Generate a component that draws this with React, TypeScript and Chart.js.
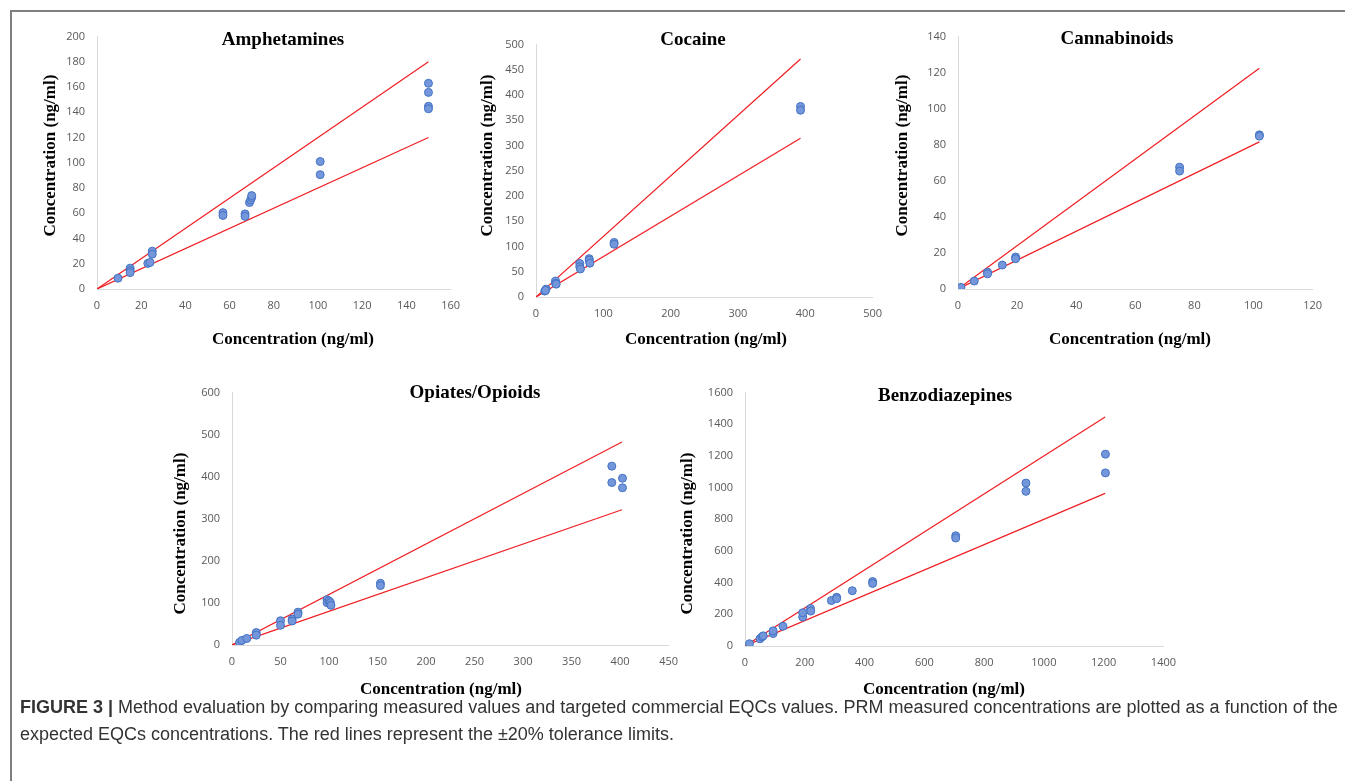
import React, { useEffect, useRef } from "react";
import { Chart, registerables } from "chart.js";

Chart.register(...registerables);

// ---------- Amphetamines ----------
const amphX = [9.5, 15, 15, 15, 23, 24, 25, 25, 57, 57, 67, 67, 69, 69.5, 70, 70, 101, 101, 150, 150, 150, 150];
const amphY = [8.6, 16.5, 14.6, 13, 20.3, 21, 30, 27.6, 60.5, 58.3, 59.5, 57.6, 68.5, 70.5, 72.5, 74, 101, 90.6, 163, 155.8, 144.8, 142.8];
const amphLineX = [0, 150];
const amphUpper = [0, 180];
const amphLower = [0, 120];

// ---------- Cocaine ----------
const cocX = [13, 15, 14, 29, 29, 30, 65, 65, 66, 79, 79, 80, 116, 116, 393, 393];
const cocY = [11.7, 15.5, 13, 31.5, 27, 25.5, 66.5, 60, 55.5, 76, 73, 67, 108, 104.5, 377.5, 370];
const cocLineX = [0, 393];
const cocUpper = [0, 471.6];
const cocLower = [0, 314.4];

// ---------- Cannabinoids ----------
const canX = [1, 5.5, 10, 10, 15, 19.5, 19.5, 75, 75, 102, 102];
const canY = [0.9, 4.4, 9.3, 8.4, 13.3, 17.7, 16.8, 67.6, 65.4, 85.5, 84.8];
const canLineX = [0, 102];
const canUpper = [0, 122.4];
const canLower = [0, 81.6];

// ---------- Opiates/Opioids ----------
const opiX = [7.8, 10.2, 15.3, 25, 25, 50, 50, 62, 62, 68, 68, 98, 98, 100, 101.5, 102, 153, 153, 391.5, 391.5, 402.5, 402.5];
const opiY = [6.2, 10.9, 15.6, 29.6, 23.4, 57.7, 46.8, 61.6, 57, 78, 73.3, 107.7, 100.6, 104.5, 100.6, 94.4, 146.7, 141.2, 425.2, 386.2, 396.4, 373.7];
const opiLineX = [0, 402];
const opiUpper = [0, 482.4];
const opiLower = [0, 321.6];

// ---------- Benzodiazepines ----------
const benX = [15, 50, 57, 61, 94, 94, 127, 193, 193, 219, 220, 289, 306.7, 306.7, 359, 427, 427, 705, 705, 940, 940, 1206, 1206];
const benY = [14.5, 45.7, 58, 64, 79, 95.6, 124.7, 182.9, 209.9, 236.9, 220.3, 286.8, 307.5, 299, 349, 407, 395, 696, 681.6, 1028.6, 976.6, 1211.4, 1093];
const benLineX = [0, 1205];
const benUpper = [0, 1446];
const benLower = [0, 964];

// axis ranges [max, step]
const amphXAxis = [160, 20];
const amphYAxis = [200, 20];
const cocXAxis = [500, 100];
const cocYAxis = [500, 50];
const canXAxis = [120, 20];
const canYAxis = [140, 20];
const opiXAxis = [450, 50];
const opiYAxis = [600, 100];
const benXAxis = [1400, 200];
const benYAxis = [1600, 200];

const titles = ["Amphetamines", "Cocaine", "Cannabinoids", "Opiates/Opioids", "Benzodiazepines"];
const axisTitle = "Concentration (ng/ml)";

const MARGIN_L = 70;
const MARGIN_T = 15;
const MARGIN_R = 15;
const MARGIN_B = 60;

type Panel = {
  title: string;
  xs: number[];
  ys: number[];
  lineX: number[];
  upper: number[];
  lower: number[];
  xAxis: number[];
  yAxis: number[];
  area: { left: number; top: number; right: number; bottom: number };
  titlePos: [number, number];
  xTitlePos: [number, number];
  yTitlePos: [number, number];
};

const panels: Panel[] = [
  {
    title: titles[0], xs: amphX, ys: amphY, lineX: amphLineX, upper: amphUpper, lower: amphLower,
    xAxis: amphXAxis, yAxis: amphYAxis,
    area: { left: 97, top: 33, right: 455, bottom: 289 },
    titlePos: [283, 36], xTitlePos: [293, 336], yTitlePos: [51, 152],
  },
  {
    title: titles[1], xs: cocX, ys: cocY, lineX: cocLineX, upper: cocUpper, lower: cocLower,
    xAxis: cocXAxis, yAxis: cocYAxis,
    area: { left: 536, top: 41, right: 877, bottom: 297 },
    titlePos: [693, 36], xTitlePos: [706, 336], yTitlePos: [488, 152],
  },
  {
    title: titles[2], xs: canX, ys: canY, lineX: canLineX, upper: canUpper, lower: canLower,
    xAxis: canXAxis, yAxis: canYAxis,
    area: { left: 958, top: 33, right: 1317, bottom: 289 },
    titlePos: [1117, 35], xTitlePos: [1130, 336], yTitlePos: [903, 152],
  },
  {
    title: titles[3], xs: opiX, ys: opiY, lineX: opiLineX, upper: opiUpper, lower: opiLower,
    xAxis: opiXAxis, yAxis: opiYAxis,
    area: { left: 232, top: 389, right: 673, bottom: 645 },
    titlePos: [475, 389], xTitlePos: [441, 686], yTitlePos: [181, 530],
  },
  {
    title: titles[4], xs: benX, ys: benY, lineX: benLineX, upper: benUpper, lower: benLower,
    xAxis: benXAxis, yAxis: benYAxis,
    area: { left: 745, top: 389, right: 1171, bottom: 646 },
    titlePos: [945, 392], xTitlePos: [944, 686], yTitlePos: [688, 530],
  },
];

const textPlugin = {
  id: "panelText",
  afterDraw(chart: any, _args: any, opts: any) {
    const { ctx, chartArea } = chart;
    const a = opts.area;
    const px = (x: number) => chartArea.left + (x - a.left);
    const py = (y: number) => chartArea.top + (y - a.top);
    ctx.save();
    ctx.fillStyle = "#000000";
    ctx.textAlign = "center";
    ctx.textBaseline = "middle";
    ctx.font = "bold 19px 'Liberation Serif', 'Times New Roman', serif";
    ctx.fillText(opts.title, px(opts.titlePos[0]), py(opts.titlePos[1]));
    ctx.font = "bold 17px 'Liberation Serif', 'Times New Roman', serif";
    ctx.fillText(opts.xTitle, px(opts.xTitlePos[0]), py(opts.xTitlePos[1]));
    ctx.translate(px(opts.yTitlePos[0]), py(opts.yTitlePos[1]));
    ctx.rotate(-Math.PI / 2);
    ctx.fillText(opts.yTitle, 0, 0);
    ctx.restore();
  },
};

const plainTick = (v: any) => String(v);

function ScatterPanel({ p }: { p: Panel }) {
  const ref = useRef<HTMLCanvasElement | null>(null);
  const w = p.area.right - p.area.left + MARGIN_L + MARGIN_R;
  const h = p.area.bottom - p.area.top + MARGIN_T + MARGIN_B;

  useEffect(() => {
    if (!ref.current) return;
    const tickFont = { family: "'Open Sans', 'Liberation Sans', sans-serif", size: 11 };
    const chart = new Chart(ref.current, {
      type: "scatter",
      data: {
        datasets: [
          {
            label: "measured",
            data: p.xs.map((x, i) => ({ x, y: p.ys[i] })),
            backgroundColor: "#7397da",
            borderColor: "#4472c4",
            borderWidth: 1,
            pointRadius: 4,
            showLine: false,
          },
          {
            label: "+20%",
            data: p.lineX.map((x, i) => ({ x, y: p.upper[i] })),
            showLine: true,
            borderColor: "#f01e23",
            borderWidth: 1.2,
            pointRadius: 0,
            fill: false,
          },
          {
            label: "-20%",
            data: p.lineX.map((x, i) => ({ x, y: p.lower[i] })),
            showLine: true,
            borderColor: "#f01e23",
            borderWidth: 1.2,
            pointRadius: 0,
            fill: false,
          },
        ],
      },
      options: {
        animation: false,
        responsive: false,
        events: [],
        layout: { padding: { left: 0, top: MARGIN_T, right: MARGIN_R, bottom: 0 } },
        plugins: {
          legend: { display: false },
          tooltip: { enabled: false },
          title: { display: false },
          panelText: {
            area: p.area,
            title: p.title,
            titlePos: p.titlePos,
            xTitle: axisTitle,
            xTitlePos: p.xTitlePos,
            yTitle: axisTitle,
            yTitlePos: p.yTitlePos,
          },
        } as any,
        scales: {
          x: {
            type: "linear",
            min: 0,
            max: p.xAxis[0],
            grid: { display: false, drawTicks: false },
            border: { display: true, color: "#d9d9d9", width: 1 },
            ticks: { stepSize: p.xAxis[1], color: "#595959", font: tickFont, padding: 10, maxRotation: 0, autoSkip: false, callback: plainTick },
            afterFit: (s: any) => { s.height = MARGIN_B; },
          },
          y: {
            type: "linear",
            min: 0,
            max: p.yAxis[0],
            grid: { display: false, drawTicks: false },
            border: { display: true, color: "#d9d9d9", width: 1 },
            ticks: { stepSize: p.yAxis[1], color: "#595959", font: tickFont, padding: 12, autoSkip: false, callback: plainTick },
            afterFit: (s: any) => { s.width = MARGIN_L; },
          },
        },
      },
      plugins: [textPlugin as any],
    });
    return () => chart.destroy();
  }, [p]);

  return (
    <canvas
      ref={ref}
      width={w}
      height={h}
      style={{
        position: "absolute",
        left: p.area.left - MARGIN_L,
        top: p.area.top - MARGIN_T,
        width: w,
        height: h,
      }}
    />
  );
}

export default function App() {
  return (
    <div
      style={{
        position: "absolute",
        left: 0,
        top: 0,
        width: 1345,
        height: 781,
        background: "#ffffff",
        overflow: "hidden",
      }}
    >
      <div
        style={{
          position: "absolute",
          left: 10,
          top: 10,
          right: 0,
          bottom: 0,
          borderTop: "2px solid #7f7f7f",
          borderLeft: "2px solid #7f7f7f",
        }}
      />
      {panels.map((p) => (
        <ScatterPanel key={p.title} p={p} />
      ))}
      <div
        style={{
          position: "absolute",
          left: 20,
          top: 694,
          fontFamily: "'Liberation Sans', Arial, sans-serif",
          fontSize: 18,
          lineHeight: "27px",
          color: "#333333",
          whiteSpace: "nowrap",
        }}
      >
        <div>
          <b>FIGURE 3 |</b> Method evaluation by comparing measured values and targeted commercial EQCs values. PRM measured concentrations are plotted as a function of the
        </div>
        <div>expected EQCs concentrations. The red lines represent the ±20% tolerance limits.</div>
      </div>
    </div>
  );
}
